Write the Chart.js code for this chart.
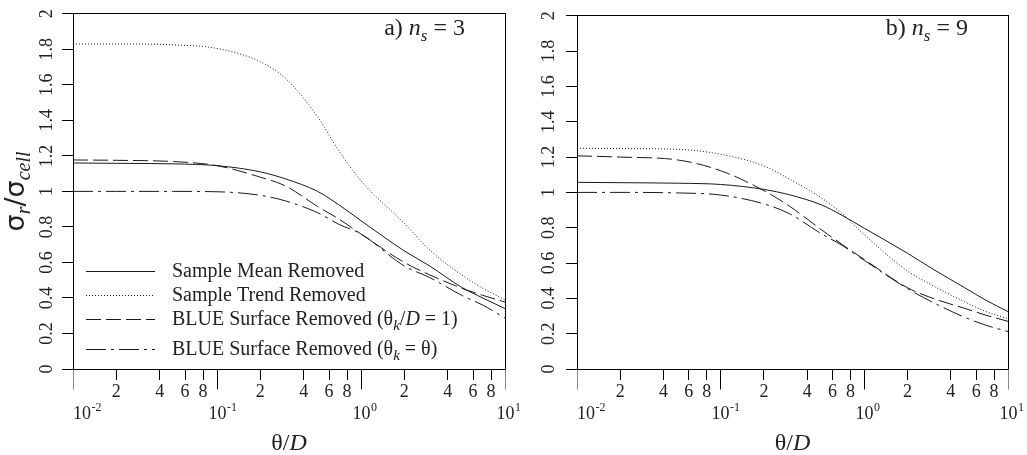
<!DOCTYPE html>
<html>
<head>
<meta charset="utf-8">
<script src="https://cdn.jsdelivr.net/npm/chart.js@4.4.1/dist/chart.umd.min.js"></script>
<style>
  html, body { margin: 0; padding: 0; background: #fff; }
  #wrap { position: relative; width: 1027px; height: 455px; overflow: hidden; }
  .panel { position: absolute; top: 0; height: 455px; }
</style>
</head>
<body>
<div id="wrap">
  <div class="panel" style="left:0;width:520px"><canvas id="chart-a" width="520" height="455"></canvas></div>
  <div class="panel" style="left:520px;width:507px"><canvas id="chart-b" width="507" height="455"></canvas></div>
</div>
<script>
// values
const thetaD = [0.01, 0.02, 0.05, 0.1, 0.2, 0.3, 0.5, 0.7, 1, 2, 3, 5, 7, 10];

// a) n_s = 3
const meanA  = [1.16, 1.158, 1.155, 1.145, 1.11, 1.07, 1.0, 0.925, 0.835, 0.665, 0.58, 0.46, 0.40, 0.34];
const trendA = [1.83, 1.83, 1.825, 1.805, 1.73, 1.635, 1.42, 1.23, 1.06, 0.82, 0.67, 0.53, 0.455, 0.39];
const blueDA = [1.177, 1.175, 1.168, 1.145, 1.08, 1.03, 0.915, 0.845, 0.76, 0.60, 0.53, 0.455, 0.415, 0.377];
const blueTA = [1.0, 1.0, 1.0, 0.998, 0.978, 0.946, 0.88, 0.815, 0.76, 0.58, 0.515, 0.415, 0.36, 0.287];

// b) n_s = 9
const meanB  = [1.057, 1.055, 1.052, 1.045, 1.017, 0.987, 0.93, 0.87, 0.797, 0.655, 0.566, 0.46, 0.39, 0.325];
const trendB = [1.25, 1.248, 1.244, 1.216, 1.15, 1.076, 0.97, 0.88, 0.76, 0.555, 0.472, 0.38, 0.326, 0.285];
const blueDB = [1.207, 1.2, 1.184, 1.123, 1.01, 0.923, 0.79, 0.705, 0.62, 0.46, 0.40, 0.343, 0.305, 0.27];
const blueTB = [1.0, 1.0, 0.997, 0.985, 0.935, 0.88, 0.767, 0.7, 0.615, 0.455, 0.377, 0.293, 0.248, 0.212];

const seriesNames = [
  'Sample Mean Removed',
  'Sample Trend Removed',
  'BLUE Surface Removed (θ_{k}/*D* = 1)',
  'BLUE Surface Removed (θ_{k} = θ)'
];

const xTicks = [0.01, 0.02, 0.04, 0.06, 0.08, 0.1, 0.2, 0.4, 0.6, 0.8, 1, 2, 4, 6, 8, 10];
const xTickLabels = ['10^-2', '2', '4', '6', '8', '10^-1', '2', '4', '6', '8', '10^0', '2', '4', '6', '8', '10^1'];
const yTickLabels = ['0', '0.2', '0.4', '0.6', '0.8', '1', '1.2', '1.4', '1.6', '1.8', '2'];

const SERIF = '"Liberation Serif", "Times New Roman", serif';
const INK = '#222';

Chart.defaults.font.family = SERIF;
Chart.defaults.font.size = 18;
Chart.defaults.color = INK;

// tiny markup: _{x} = italic subscript, *x* = italic
function parseRich(str) {
  return str.split(/(_\{[^}]*\}|\*[^*]+\*)/).filter(s => s).map(s => {
    if (s.startsWith('_{')) return { t: s.slice(2, -1), sub: true, it: true };
    if (s.startsWith('*')) return { t: s.slice(1, -1), it: true };
    return { t: s };
  });
}

function drawRich(ctx, str, x, y, o) {
  const parts = parseRich(str);
  const fontOf = p => (p.it ? 'italic ' : '') + (p.sub ? o.subSize : o.size) + 'px ' +
    (p.sub || p.it ? SERIF : (o.family || SERIF));
  let w = 0;
  parts.forEach(p => { ctx.font = fontOf(p); p.w = ctx.measureText(p.t).width; w += p.w; });
  let cx = o.align === 'center' ? x - w / 2 : o.align === 'right' ? x - w : x;
  ctx.textAlign = 'left';
  ctx.textBaseline = 'alphabetic';
  parts.forEach(p => {
    ctx.font = fontOf(p);
    ctx.fillText(p.t, cx, y + (p.sub ? o.subShift : 0));
    cx += p.w;
  });
}

// same rounding as Chart.js uses for 1px lines
const align = px => Math.round(px - 0.5) + 0.5;

const decorPlugin = {
  id: 'decor',
  afterDraw(chart, args, opts) {
    const { ctx, chartArea: a } = chart;
    const xs = chart.scales.x;
    ctx.save();

    // frame
    ctx.strokeStyle = '#000';
    ctx.lineWidth = 1;
    const l = align(a.left), t = align(a.top), r = align(a.right), b = align(a.bottom);
    ctx.strokeRect(l, t, r - l, b - t);

    // decade ticks are longer, decade labels with exponent
    xTicks.forEach((v, i) => {
      const lab = xTickLabels[i];
      if (!lab.startsWith('10^')) return;
      const px = align(xs.getPixelForValue(v));
      ctx.strokeStyle = (i === 0 || i === xTicks.length - 1) ? '#888' : '#000';
      ctx.beginPath();
      ctx.moveTo(px, b);
      ctx.lineTo(px, b + 20);
      ctx.stroke();
      ctx.fillStyle = INK;
      ctx.font = '18px ' + SERIF;
      const w10 = ctx.measureText('10').width;
      const cx = Math.max(px, a.left + w10 / 2);
      ctx.textAlign = 'center';
      ctx.textBaseline = 'alphabetic';
      ctx.fillText('10', cx, b + 49);
      ctx.font = '12px ' + SERIF;
      ctx.textAlign = 'left';
      ctx.fillText(lab.slice(3), cx + w10 / 2 + 0.5, b + 41);
    });

    ctx.fillStyle = INK;
    // x title
    drawRich(ctx, 'θ/*D*', (a.left + a.right) / 2, 450, { size: 24, subSize: 16, subShift: 5, align: 'center' });

    // panel tag
    drawRich(ctx, opts.tag, a.right - 40, 35, { size: 24, subSize: 17, subShift: 6, align: 'right' });

    // y title
    if (opts.yTitle) {
      ctx.save();
      ctx.translate(24, (a.top + a.bottom) / 2);
      ctx.rotate(-Math.PI / 2);
      drawRich(ctx, opts.yTitle, 0, 0, { size: 27, family: '"DejaVu Sans", sans-serif', subSize: 20, subShift: 6, align: 'center' });
      ctx.restore();
    }

    // legend
    if (opts.legend) {
      const rows = [271, 295, 319, 349];
      chart.data.datasets.forEach((ds, i) => {
        const y = rows[i] + 0.5;
        ctx.strokeStyle = ds.borderColor;
        ctx.lineWidth = ds.borderWidth;
        ctx.setLineDash(ds.borderDash || []);
        ctx.beginPath();
        ctx.moveTo(86, y);
        ctx.lineTo(155, y);
        ctx.stroke();
        ctx.setLineDash([]);
        ctx.fillStyle = INK;
        drawRich(ctx, ds.label, 172, rows[i] + 6, { size: 20, subSize: 15, subShift: 5, align: 'left' });
      });
    }
    ctx.restore();
  }
};

const lineStyles = [[], [1, 2], [15, 5], [20, 5, 3, 5]];

function makeChart(id, series, opts) {
  const datasets = series.map((vals, i) => ({
    label: seriesNames[i],
    data: thetaD.map((x, j) => ({ x: x, y: vals[j] })),
    borderColor: '#1a1a1a',
    borderWidth: 1,
    borderDash: lineStyles[i],
    pointRadius: 0,
    cubicInterpolationMode: 'monotone',
    fill: false
  }));

  return new Chart(document.getElementById(id), {
    type: 'line',
    data: { datasets: datasets },
    options: {
      responsive: false,
      animation: false,
      layout: { padding: { top: 11, right: opts.padRight, left: 0, bottom: 0 } },
      plugins: {
        legend: { display: false },
        tooltip: { enabled: false },
        decor: opts
      },
      scales: {
        x: {
          type: 'logarithmic',
          min: 0.01,
          max: 10,
          afterBuildTicks: (scale) => { scale.ticks = xTicks.map(v => ({ value: v })); },
          afterFit: (scale) => { scale.height = 86; },
          grid: { drawOnChartArea: false, tickLength: 11, color: '#000' },
          border: { display: true, color: '#000', width: 1 },
          ticks: {
            autoSkip: false,
            maxRotation: 0,
            padding: 1,
            callback: (v, i) => xTickLabels[i].startsWith('10^') ? '' : xTickLabels[i]
          }
        },
        y: {
          type: 'linear',
          min: 0,
          max: 2,
          afterFit: (scale) => { scale.width = opts.yWidth; },
          grid: { drawOnChartArea: false, tickLength: 11, color: '#000' },
          border: { display: true, color: '#000', width: 1 },
          ticks: {
            stepSize: 0.2,
            minRotation: 90,
            maxRotation: 90,
            crossAlign: 'center',
            padding: opts.yPad,
            callback: (v, i) => yTickLabels[i]
          }
        }
      }
    },
    plugins: [decorPlugin]
  });
}

makeChart('chart-a', [meanA, trendA, blueDA, blueTA], {
  tag: 'a) *n*_{s} = 3', yTitle: 'σ_{r}/σ_{cell}', legend: true, yWidth: 73, yPad: 3, padRight: 15
});
makeChart('chart-b', [meanB, trendB, blueDB, blueTB], {
  tag: 'b) *n*_{s} = 9', yTitle: null, legend: false, yWidth: 57, yPad: 5, padRight: 19
});
</script>
</body>
</html>
